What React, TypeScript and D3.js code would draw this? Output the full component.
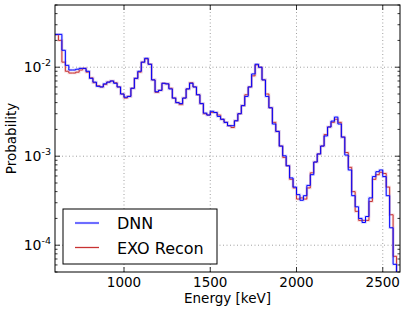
import React, { useRef, useEffect } from "react";
import * as d3 from "d3";

// bins: 20 keV wide from 600 to 2600 keV
const binStart = 600;
const binWidth = 20;

const dnn = [
  0.0234, 0.0234, 0.0155, 0.0105, 0.0093, 0.0093, 0.0095, 0.0097, 0.0097, 0.009,
  0.0075, 0.0068, 0.0061, 0.006, 0.0065, 0.0068, 0.007, 0.0066, 0.006, 0.005,
  0.0046, 0.0047, 0.0058, 0.0075, 0.009, 0.0114, 0.0126, 0.0108, 0.0072, 0.0053,
  0.0055, 0.0066, 0.0065, 0.0057, 0.0045, 0.004, 0.0039, 0.0045, 0.0057, 0.0066,
  0.006, 0.0049, 0.0039, 0.00305, 0.0029, 0.0032, 0.0031, 0.0028, 0.0026, 0.0024,
  0.0022, 0.0022, 0.0025, 0.003, 0.0037, 0.0047, 0.006, 0.0084, 0.0108, 0.01,
  0.0072, 0.0047, 0.0035, 0.0023, 0.0019, 0.0013, 0.00101, 0.00078, 0.00057, 0.00045,
  0.00037, 0.00032, 0.00036, 0.00047, 0.00062, 0.00086, 0.00106, 0.0013, 0.00169, 0.00213,
  0.00248, 0.00275, 0.0023, 0.00164, 0.00103, 0.0007, 0.00036, 0.00027, 0.0002, 0.00018,
  0.00021, 0.00034, 0.00059, 0.00067, 0.0007, 0.00059, 0.00036, 0.000157, 0.000061, 0.000036,
];

const exoRecon = [
  0.0232, 0.02, 0.0114, 0.009, 0.0086, 0.0086, 0.0088, 0.0093, 0.0097, 0.0088,
  0.0076, 0.0067, 0.0062, 0.006, 0.0064, 0.0068, 0.007, 0.0067, 0.006, 0.005,
  0.0045, 0.0047, 0.0058, 0.0075, 0.0088, 0.0114, 0.0124, 0.0108, 0.0072, 0.0052,
  0.0055, 0.0066, 0.0065, 0.0058, 0.0045, 0.004, 0.0038, 0.0045, 0.0057, 0.0067,
  0.006, 0.0049, 0.0039, 0.003, 0.0029, 0.0031, 0.0031, 0.0029, 0.0026, 0.0024,
  0.0022, 0.0021, 0.0025, 0.003, 0.0037, 0.0049, 0.006, 0.008, 0.0106, 0.01,
  0.0072, 0.005, 0.0035, 0.0024, 0.0019, 0.0013, 0.00097, 0.00078, 0.00055, 0.00044,
  0.00033, 0.00034, 0.00033, 0.00044, 0.00065, 0.00086, 0.00106, 0.0013, 0.00175, 0.00213,
  0.0024, 0.0026, 0.0024, 0.00164, 0.0011, 0.00075, 0.0004, 0.00024, 0.00019, 0.00019,
  0.00019, 0.00031, 0.00055, 0.00062, 0.00066, 0.00064, 0.00045, 0.00022, 0.000075, 0.00004,
];

const xTicks = [1000, 1500, 2000, 2500];
const yTicks = [1e-4, 1e-3, 1e-2];
const yExponents = ["-4", "-3", "-2"];

const series = [
  { name: "EXO Recon", values: exoRecon, color: "#c83232", halo: "#e08080" },
  { name: "DNN", values: dnn, color: "#0000ff", halo: "#8080ff" },
];
const legendItems = ["DNN", "EXO Recon"];
const legendColors = ["#0000ff", "#c83232"];
const legendHalos = ["#8080ff", "#e08080"];

export default function App() {
  const svgRef = useRef<SVGSVGElement>(null);
  const width = 407;
  const height = 312;

  useEffect(() => {
    if (!svgRef.current) return;
    const svg = d3.select(svgRef.current);
    svg.selectAll("*").remove();

    const margin = { top: 5, right: 7, bottom: 40, left: 55 };
    const x0 = margin.left;
    const x1 = width - margin.right;
    const y0 = margin.top;
    const y1 = height - margin.bottom;
    const font = "DejaVu Sans, sans-serif";

    const x = d3.scaleLinear().domain([600, 2600]).range([x0, x1]);
    const y = d3.scaleLog().domain([5e-5, 5e-2]).range([y1, y0]);

    svg.append("defs").append("clipPath").attr("id", "plotclip")
      .append("rect").attr("x", x0).attr("y", y0).attr("width", x1 - x0).attr("height", y1 - y0);

    // grid
    const grid = svg.append("g").attr("stroke", "#888").attr("stroke-width", 0.8).attr("stroke-dasharray", "1,2.5");
    xTicks.forEach(t => {
      grid.append("line").attr("x1", x(t)).attr("x2", x(t)).attr("y1", y0).attr("y2", y1);
    });
    yTicks.forEach(t => {
      grid.append("line").attr("x1", x0).attr("x2", x1).attr("y1", y(t)).attr("y2", y(t));
    });

    // step histograms
    const plot = svg.append("g").attr("clip-path", "url(#plotclip)");
    const line = d3.line<[number, number]>()
      .x(d => x(d[0]))
      .y(d => y(Math.max(d[1], 1e-6)))
      .curve(d3.curveStepAfter);

    series.forEach(s => {
      const pts: [number, number][] = s.values.map((v, i) => [binStart + i * binWidth, v]);
      pts.push([binStart + s.values.length * binWidth, s.values[s.values.length - 1]]);
      plot.append("path").attr("d", line(pts)).attr("fill", "none")
        .attr("stroke", s.halo).attr("stroke-width", 2.6).attr("stroke-opacity", 0.3);
      plot.append("path").attr("d", line(pts)).attr("fill", "none")
        .attr("stroke", s.color).attr("stroke-width", 1);
    });

    // frame
    svg.append("rect").attr("x", x0).attr("y", y0).attr("width", x1 - x0).attr("height", y1 - y0)
      .attr("fill", "none").attr("stroke", "black").attr("stroke-width", 1);

    // ticks (inward, both sides)
    const ticks = svg.append("g").attr("stroke", "black").attr("stroke-width", 0.8);
    xTicks.forEach(t => {
      ticks.append("line").attr("x1", x(t)).attr("x2", x(t)).attr("y1", y1).attr("y2", y1 - 5);
      ticks.append("line").attr("x1", x(t)).attr("x2", x(t)).attr("y1", y0).attr("y2", y0 + 5);
    });
    const minor: number[] = [];
    for (let e = -5; e <= -2; e++) {
      for (let m = 1; m <= 9; m++) {
        const v = m * Math.pow(10, e);
        if (v >= 5e-5 && v <= 5e-2) minor.push(v);
      }
    }
    minor.forEach(v => {
      const major = yTicks.some(t => Math.abs(t - v) / t < 1e-6);
      const len = major ? 5 : 2.5;
      ticks.append("line").attr("x1", x0).attr("x2", x0 + len).attr("y1", y(v)).attr("y2", y(v));
      ticks.append("line").attr("x1", x1).attr("x2", x1 - len).attr("y1", y(v)).attr("y2", y(v));
    });

    // tick labels
    xTicks.forEach(t => {
      svg.append("text").attr("x", x(t)).attr("y", y1 + 15).attr("text-anchor", "middle")
        .attr("font-family", font).attr("font-size", 13.5).text(String(t));
    });
    yTicks.forEach((t, i) => {
      const txt = svg.append("text").attr("x", 51).attr("y", y(t) + 5).attr("text-anchor", "end")
        .attr("font-family", font).attr("font-size", 14);
      txt.append("tspan").text("10");
      txt.append("tspan").attr("dy", -6).attr("font-size", 9.5).text(yExponents[i]);
    });

    // axis labels
    svg.append("text").attr("x", (x0 + x1) / 2).attr("y", 303).attr("text-anchor", "middle")
      .attr("font-family", font).attr("font-size", 13.5).text("Energy [keV]");
    svg.append("text").attr("transform", `translate(16,${(y0 + y1) / 2}) rotate(-90)`)
      .attr("text-anchor", "middle").attr("font-family", font).attr("font-size", 13.5).text("Probability");

    // legend
    const lg = svg.append("g");
    lg.append("rect").attr("x", 63).attr("y", 209).attr("width", 154).attr("height", 55)
      .attr("fill", "white").attr("stroke", "black").attr("stroke-width", 1);
    legendItems.forEach((name, i) => {
      const ly = 223 + i * 24.5;
      lg.append("line").attr("x1", 75).attr("x2", 99).attr("y1", ly).attr("y2", ly)
        .attr("stroke", legendHalos[i]).attr("stroke-width", 2.6).attr("stroke-opacity", 0.3);
      lg.append("line").attr("x1", 75).attr("x2", 99).attr("y1", ly).attr("y2", ly)
        .attr("stroke", legendColors[i]).attr("stroke-width", 1);
      lg.append("text").attr("x", 117).attr("y", ly + 6).attr("font-family", font)
        .attr("font-size", 16).text(name);
    });
  }, []);

  return (
    <svg ref={svgRef} width={width} height={height}
      style={{ position: "absolute", left: 0, top: 0, background: "white" }} />
  );
}
